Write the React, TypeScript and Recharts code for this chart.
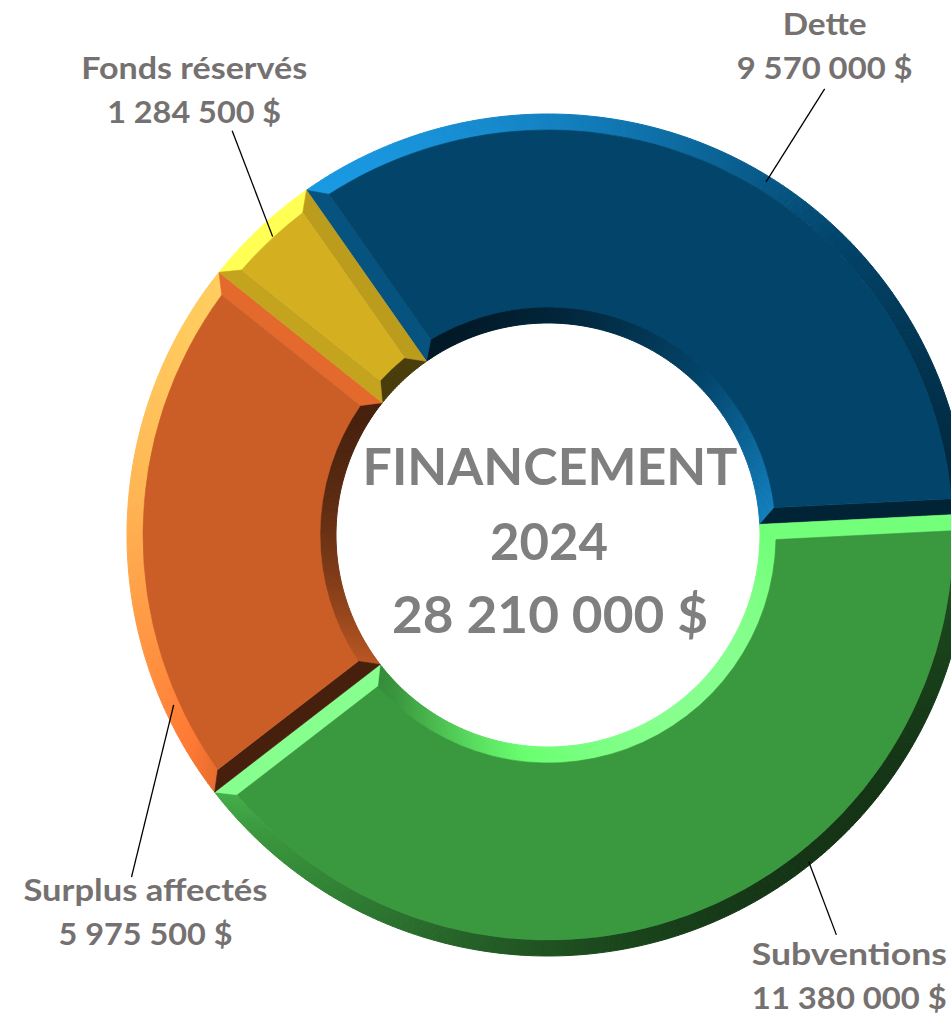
import { PieChart, Pie, Cell } from 'recharts';

// Financement 2024 – sources
const categories = ['Dette', 'Subventions', 'Surplus affectés', 'Fonds réservés'];
const amounts = [9570000, 11380000, 5975500, 1284500];
const colors = ['#02446a', '#3a983e', '#cb5e26', '#d4b020'];
const centerTitle = ['FINANCEMENT', '2024'];

// label placement: leader line from (angle, outerRadius + r) to (angle, outerRadius + r), text offset from line end
const labelLayout = [
  { a1: 58.3, r1: -6, a2: 58.2, r2: 104, dx: 0, dy: -54 },
  { a1: -51.4, r1: -3, a2: -54.2, r2: 72, dx: 13, dy: 30 },
  { a1: 204.4, r1: -10, a2: 219.4, r2: 118, dx: 14, dy: 24 },
  { a1: 132.7, r1: -15, a2: 128, r2: 92, dx: -38, dy: -52 },
];
const labelWidths = [[84, 176], [195, 195], [244, 174], [226, 174]];

const data = categories.map((name, i) => ({ name, value: amounts[i] }));
const total = amounts.reduce((s, v) => s + v, 0);

const fmt = (n: number) => String(n).replace(/\B(?=(\d{3})+(?!\d))/g, ' ') + ' $';

const RAD = Math.PI / 180;
const BEVEL = 16;
const LIGHT = [-Math.SQRT1_2, -Math.SQRT1_2];

const polar = (cx: number, cy: number, r: number, a: number) => [cx + r * Math.cos(-a * RAD), cy + r * Math.sin(-a * RAD)];

const shade = (hex: string, s: number) => {
  const f = s >= 0 ? 1 + 0.95 * s : 1 + 0.66 * s;
  const c = [1, 3, 5].map((i) => parseInt(hex.slice(i, i + 2), 16));
  const out = c.map((v) => Math.max(0, Math.min(255, Math.round(v * f + (s > 0 ? 22 * s : 0)))));
  return `rgb(${out.join(',')})`;
};

const BevelSector = (props: any) => {
  const { cx, cy, innerRadius: ri, outerRadius: ro, startAngle: sa, endAngle: ea, fill } = props;
  const dir = ea < sa ? -1 : 1;
  const roI = ro - BEVEL;
  const riI = ri + BEVEL;
  const ins = (r: number) => Math.asin(BEVEL / r) / RAD;
  const oSa = sa + dir * ins(roI);
  const oEa = ea - dir * ins(roI);
  const iSa = sa + dir * ins(riI);
  const iEa = ea - dir * ins(riI);
  const P = (r: number, a: number) => polar(cx, cy, r, a);
  const pts = (arr: number[][]) => arr.map((p) => p.join(',')).join(' ');
  const polys = [];
  const n = Math.max(2, Math.ceil(Math.abs(ea - sa) / 0.75));
  for (let k = 0; k < n; k++) {
    const t0 = k / n;
    const t1 = (k + 1) / n;
    const a0 = sa + (ea - sa) * t0;
    const a1 = sa + (ea - sa) * t1;
    const am = (a0 + a1) / 2;
    const so = Math.cos(am * RAD) * LIGHT[0] - Math.sin(am * RAD) * LIGHT[1];
    const co = shade(fill, so);
    const ci = shade(fill, -so);
    polys.push(
      <polygon key={`o${k}`} points={pts([P(ro, a0), P(ro, a1), P(roI, oSa + (oEa - oSa) * t1), P(roI, oSa + (oEa - oSa) * t0)])} fill={co} stroke={co} strokeWidth={1} />
    );
    polys.push(
      <polygon key={`i${k}`} points={pts([P(ri, a0), P(ri, a1), P(riI, iSa + (iEa - iSa) * t1), P(riI, iSa + (iEa - iSa) * t0)])} fill={ci} stroke={ci} strokeWidth={1} />
    );
  }
  // radial edges
  const tan = (a: number) => [dir * -Math.sin(a * RAD), dir * -Math.cos(a * RAD)];
  const ts = tan(sa);
  const te = tan(ea);
  const sStart = -(ts[0] * LIGHT[0] + ts[1] * LIGHT[1]);
  const sEnd = te[0] * LIGHT[0] + te[1] * LIGHT[1];
  const cs = shade(fill, sStart);
  const ce = shade(fill, sEnd);
  const sweep = sa > ea ? 1 : 0;
  const [ox0, oy0] = P(roI, oSa);
  const [ox1, oy1] = P(roI, oEa);
  const [ix1, iy1] = P(riI, iEa);
  const [ix0, iy0] = P(riI, iSa);
  const face = `M${ox0},${oy0} A${roI},${roI} 0 0 ${sweep} ${ox1},${oy1} L${ix1},${iy1} A${riI},${riI} 0 0 ${1 - sweep} ${ix0},${iy0} Z`;
  return (
    <g>
      {polys}
      <polygon points={pts([P(ri, sa), P(ro, sa), P(roI, oSa), P(riI, iSa)])} fill={cs} stroke={cs} strokeWidth={0.6} />
      <polygon points={pts([P(ro, ea), P(ri, ea), P(riI, iEa), P(roI, oEa)])} fill={ce} stroke={ce} strokeWidth={0.6} />
      <path d={face} fill={fill} stroke={fill} strokeWidth={0.6} />
    </g>
  );
};

const centerText = (cx: number, cy: number) => {
  const common = { textAnchor: 'middle' as const, fill: '#7f7f7f', fontFamily: 'Lato', fontWeight: 700, fontSize: 52, lengthAdjust: 'spacingAndGlyphs' };
  return (
    <g>
      <text x={cx + 2} y={cy - 50} textLength={375} {...common}>{centerTitle[0]}</text>
      <text x={cx + 1} y={cy + 25} textLength={118} {...common}>{centerTitle[1]}</text>
      <text x={cx + 2} y={cy + 98} textLength={316} {...common}>{fmt(total)}</text>
    </g>
  );
};

const renderLabel = (props: any) => {
  const { cx, cy, outerRadius, index } = props;
  const l = labelLayout[index];
  const [x1, y1] = polar(cx, cy, outerRadius + l.r1, l.a1);
  const [x2, y2] = polar(cx, cy, outerRadius + l.r2, l.a2);
  const tx = x2 + l.dx;
  const ty = y2 + l.dy;
  const w = labelWidths[index];
  return (
    <g>
      {index === 0 && centerText(cx, cy)}
      <line x1={x1} y1={y1} x2={x2} y2={y2} stroke="#000" strokeWidth={1.3} />
      <text x={tx} y={ty} textAnchor="middle" fill="#767171" fontFamily="Lato" fontWeight={700} fontSize={30} textLength={w[0]} lengthAdjust="spacingAndGlyphs">
        {categories[index]}
      </text>
      <text x={tx} y={ty + 44} textAnchor="middle" fill="#767171" fontFamily="Lato" fontWeight={700} fontSize={30} textLength={w[1]} lengthAdjust="spacingAndGlyphs">
        {fmt(amounts[index])}
      </text>
    </g>
  );
};

export default function App() {
  return (
    <div style={{ position: 'absolute', left: 0, top: 0, width: 951, height: 1019, background: '#fff' }}>
      <PieChart width={951} height={1019} margin={{ top: 0, right: 0, bottom: 0, left: 0 }}>
        <Pie
          data={data}
          dataKey="value"
          nameKey="name"
          cx={548}
          cy={535}
          innerRadius={212}
          outerRadius={421}
          startAngle={125}
          endAngle={-235}
          stroke="none"
          shape={BevelSector}
          label={renderLabel}
          labelLine={false}
          isAnimationActive={false}
        >
          {data.map((d, i) => (
            <Cell key={d.name} fill={colors[i]} />
          ))}
        </Pie>
      </PieChart>
    </div>
  );
}
